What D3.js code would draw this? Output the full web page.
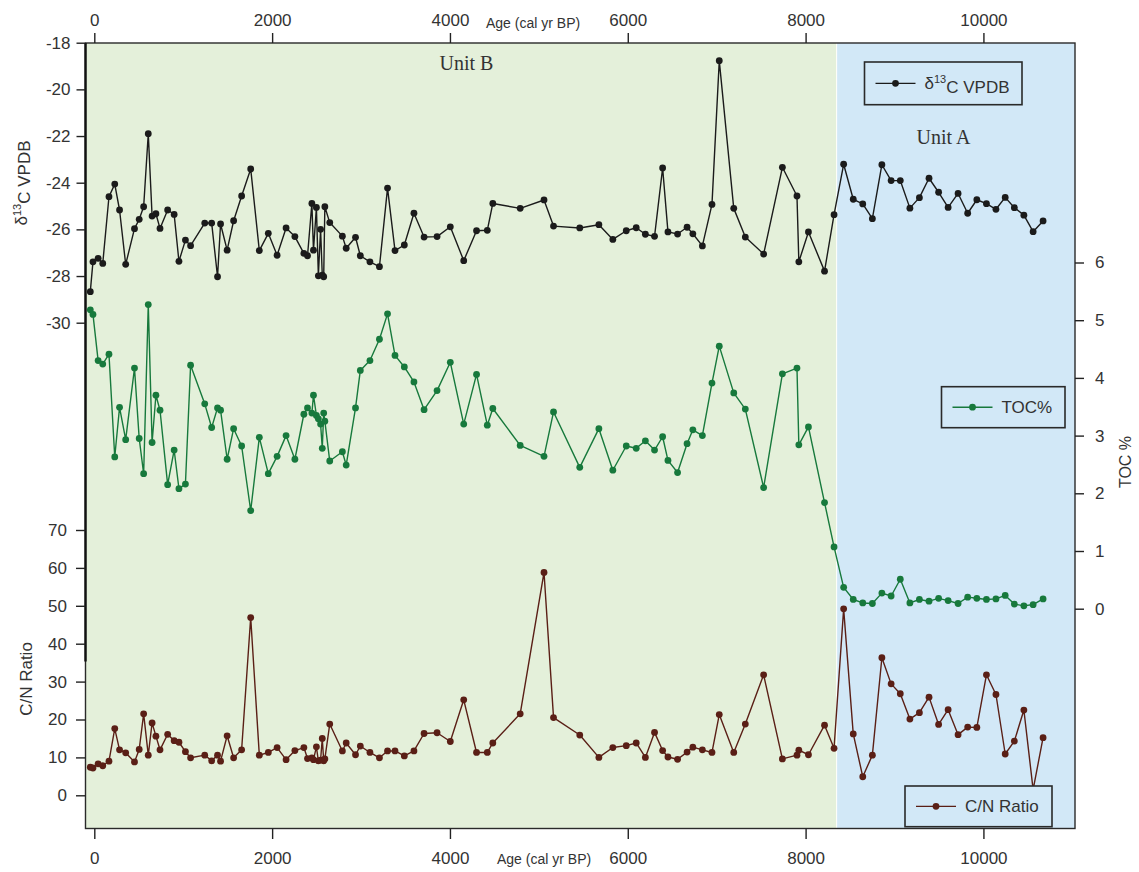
<!DOCTYPE html>
<html>
<head>
<meta charset="utf-8">
<script src="https://cdn.jsdelivr.net/npm/d3@7"></script>
<style>
  body { margin: 0; background: #ffffff; }
  svg text { font-family: "Liberation Sans", Arial, sans-serif; fill: #333; }
</style>
</head>
<body>
<svg id="chart" width="1139" height="872"></svg>
<script>
// Sample ages (cal yr BP), shared by all three proxies
const ages = [
  -45, -15, 43, 95, 165, 230, 284, 353, 452, 505,
  555, 607, 650, 693, 739, 825, 898, 952, 1025, 1083,
  1242, 1320, 1386, 1420, 1494, 1567, 1657, 1759, 1856, 1957,
  2056, 2157, 2256, 2357, 2398, 2447, 2465, 2498, 2520, 2545,
  2564, 2580, 2593, 2648, 2790, 2833, 2938, 2992, 3100, 3207,
  3298, 3382, 3487, 3595, 3709, 3855, 4004, 4155, 4299, 4420,
  4482, 4790, 5058, 5165, 5460, 5675,
  5832, 5983, 6095, 6198, 6301, 6392, 6452, 6560, 6667, 6732,
  6839, 6947, 7029, 7192, 7322, 7528, 7739, 7903, 7924, 8032,
  8213, 8320,
  8428, 8536, 8643, 8751, 8858, 8962, 9065, 9173, 9280, 9388,
  9496, 9603, 9715, 9823, 9926, 10034, 10141, 10245, 10348, 10455,
  10559, 10671
];

// δ13C VPDB (‰)
const d13C = [
  -28.67, -27.39, -27.24, -27.46, -24.6, -24.06, -25.17, -27.5, -25.97, -25.57,
  -25.03, -21.9, -25.43, -25.33, -25.96, -25.17, -25.36, -27.37, -26.46, -26.7,
  -25.73, -25.73, -28.03, -25.77, -26.89, -25.63, -24.57, -23.41, -26.91, -26.17,
  -27.11, -25.94, -26.31, -27.03, -27.13, -24.89, -26.89, -25.06, -27.99, -26.0,
  -27.96, -28.03, -25.03, -25.71, -26.29, -26.81, -26.34, -27.13, -27.39, -27.6,
  -24.23, -26.91, -26.67, -25.31, -26.33, -26.31, -25.89, -27.34, -26.06, -26.04,
  -24.89, -25.1, -24.74, -25.86, -25.94, -25.8,
  -26.43, -26.06, -25.93, -26.21, -26.3, -23.37, -26.11, -26.2, -25.91, -26.19,
  -26.71, -24.93, -18.77, -25.1, -26.33, -27.06, -23.34, -24.57, -27.39, -26.11,
  -27.79, -25.37,
  -23.21, -24.71, -24.91, -25.54, -23.23, -23.91, -23.91, -25.09, -24.64, -23.81,
  -24.41, -25.06, -24.46, -25.31, -24.73, -24.9, -25.14, -24.63, -25.07, -25.39,
  -26.1, -25.64
];

// Total organic carbon (%)
const toc = [
  5.18, 5.10, 4.30, 4.24, 4.41, 2.63, 3.49, 2.93, 4.17, 2.95,
  2.34, 5.27, 2.88, 3.70, 3.44, 2.15, 2.75, 2.08, 2.16, 4.22,
  3.55, 3.14, 3.48, 3.44, 2.59, 3.12, 2.82, 1.70, 2.97, 2.34,
  2.64, 3.00, 2.59, 3.37, 3.48, 3.39, 3.70, 3.35, 3.29, 3.20,
  2.78, 3.39, 3.25, 2.56, 2.72, 2.49, 3.48, 4.13, 4.30, 4.67,
  5.11, 4.39, 4.19, 3.93, 3.45, 3.78, 4.27, 3.20, 4.06, 3.18,
  3.47, 2.83, 2.64, 3.41, 2.45, 3.12,
  2.40, 2.82, 2.78, 2.91, 2.75, 2.98, 2.57, 2.36, 2.86, 3.10,
  3.00, 3.91, 4.55, 3.74, 3.46, 2.10, 4.07, 4.17, 2.84, 3.15,
  1.84, 1.07,
  0.37, 0.16, 0.10, 0.09, 0.27, 0.22, 0.51, 0.10, 0.16, 0.13,
  0.18, 0.14, 0.09, 0.20, 0.18, 0.16, 0.17, 0.23, 0.08, 0.05,
  0.07, 0.17
];

// C/N ratio
const cn = [
  7.4, 7.2, 8.3, 7.8, 9.0, 17.6, 12.0, 11.2, 8.8, 12.1,
  21.5, 10.6, 19.1, 15.6, 12.0, 16.1, 14.4, 14.0, 11.5, 9.9,
  10.6, 9.1, 10.6, 9.0, 15.7, 9.9, 12.0, 46.9, 10.6, 11.3,
  12.6, 9.4, 11.8, 12.6, 9.7, 9.9, 9.4, 12.8, 9.1, 9.3,
  15.0, 9.1, 9.6, 18.8, 11.7, 13.8, 10.7, 13.0, 11.3, 9.9,
  11.7, 11.7, 10.4, 11.7, 16.3, 16.5, 14.2, 25.2, 11.3, 11.3,
  13.8, 21.5, 58.8, 20.5, 15.9, 10.0,
  12.6, 13.1, 13.8, 10.0, 16.6, 11.8, 10.1, 9.5, 11.4, 12.7,
  12.0, 11.3, 21.3, 11.3, 18.8, 31.8, 9.6, 10.6, 11.9, 10.7,
  18.5, 12.4,
  49.2, 16.2, 4.9, 10.6, 36.3, 29.4, 26.8, 20.1, 21.8, 25.9,
  18.7, 22.6, 16.0, 18.0, 17.9, 31.8, 26.6, 10.9, 14.3, 22.5,
  1.5, 15.2
];

const ageTicks = [0, 2000, 4000, 6000, 8000, 10000];
const d13CTicks = [-18, -20, -22, -24, -26, -28, -30];
const tocTicks = [0, 1, 2, 3, 4, 5, 6];
const cnTicks = [0, 10, 20, 30, 40, 50, 60, 70];
const unitBoundaryAge = 8349;   // Unit B / Unit A contact

// ---------------------------------------------------------------
const svg = d3.select("#chart");
const L = 85.5, R = 1075, T = 43, B = 828.5;

const x  = d3.scaleLinear().domain([-99, 11030]).range([L, R]);
const yD = d3.scaleLinear().domain([-18, -30]).range([42.7, 322.7]);
const yT = d3.scaleLinear().domain([0, 6]).range([608.7, 262.5]);
const yC = d3.scaleLinear().domain([0, 70]).range([795.3, 530]);

const GREEN_BG = "#e4f0da", BLUE_BG = "#d2e8f7";
const COL_D = "#1b1b1b", COL_T = "#17793c", COL_C = "#5a1f16";

// Stratigraphic unit shading
const xb = x(unitBoundaryAge);
svg.append("rect").attr("x", L).attr("y", T).attr("width", xb - L - 0.5).attr("height", B - T)
  .attr("fill", GREEN_BG);
svg.append("rect").attr("x", xb + 0.5).attr("y", T).attr("width", R - xb - 0.5).attr("height", B - T)
  .attr("fill", BLUE_BG);

svg.append("text").attr("x", x(4185)).attr("y", 70).attr("text-anchor", "middle")
  .style("font-family", "'Liberation Serif', 'Times New Roman', serif").style("font-size", "20px")
  .text("Unit B");
svg.append("text").attr("x", x(9551)).attr("y", 144).attr("text-anchor", "middle")
  .style("font-family", "'Liberation Serif', 'Times New Roman', serif").style("font-size", "20px")
  .text("Unit A");

// Frame
const frame = svg.append("g").attr("stroke", "#2a2a2a").attr("fill", "none");
frame.append("rect").attr("x", L).attr("y", T).attr("width", R - L).attr("height", B - T)
  .attr("stroke-width", 1.4);
frame.append("line").attr("x1", L).attr("x2", L).attr("y1", T).attr("y2", 661.5)
  .attr("stroke-width", 2.4).attr("stroke", "#111");

// Axes
function styleAxis(g) {
  g.select(".domain").remove();
  g.selectAll(".tick line").attr("stroke", "#222").attr("stroke-width", 1.4);
  g.selectAll(".tick text").style("font-size", "17px").attr("fill", "#333");
}
svg.append("g").attr("transform", `translate(0,${T})`)
  .call(d3.axisTop(x).tickValues(ageTicks).tickSize(10).tickPadding(7.5).tickFormat(d3.format("d")))
  .call(styleAxis);
svg.append("g").attr("transform", `translate(0,${B})`)
  .call(d3.axisBottom(x).tickValues(ageTicks).tickSize(10.5).tickPadding(13).tickFormat(d3.format("d")))
  .call(styleAxis);
svg.append("g").attr("transform", `translate(${L},0)`)
  .call(d3.axisLeft(yD).tickValues(d13CTicks).tickSize(9).tickPadding(6).tickFormat(d => String(d)))
  .call(styleAxis);
svg.append("g").attr("transform", `translate(${L},0)`)
  .call(d3.axisLeft(yC).tickValues(cnTicks).tickSize(9.5).tickPadding(9).tickFormat(d => String(d)))
  .call(styleAxis);
svg.append("g").attr("transform", `translate(${R},0)`)
  .call(d3.axisRight(yT).tickValues(tocTicks).tickSize(9).tickPadding(11).tickFormat(d => String(d)))
  .call(styleAxis);

// Axis titles
const ageTitle = (xp, yp) => svg.append("text").attr("x", xp).attr("y", yp)
  .style("font-size", "14px").text("Age (cal yr BP)");
ageTitle(486, 28);
ageTitle(497, 864);

const dTitle = svg.append("text").attr("transform", "translate(21,183) rotate(-90)")
  .attr("text-anchor", "middle").attr("dy", "0.35em").style("font-size", "17px");
dTitle.append("tspan").text("δ");
dTitle.append("tspan").attr("dy", "-0.55em").style("font-size", "11px").text("13");
dTitle.append("tspan").attr("dy", "0.55em").text("C VPDB");

svg.append("text").attr("transform", "translate(26,679) rotate(-90)")
  .attr("text-anchor", "middle").attr("dy", "0.35em").style("font-size", "17px").text("C/N Ratio");
svg.append("text").attr("transform", "translate(1125,462) rotate(-90)")
  .attr("text-anchor", "middle").attr("dy", "0.35em").style("font-size", "16px").text("TOC %");

// Series
const series = [
  { values: d13C, y: yD, color: COL_D },
  { values: toc,  y: yT, color: COL_T },
  { values: cn,   y: yC, color: COL_C }
];
series.forEach(s => {
  const pts = ages.map((a, i) => [a, s.values[i]]);
  const g = svg.append("g");
  g.append("path").datum(pts)
    .attr("fill", "none").attr("stroke", s.color).attr("stroke-width", 1.4)
    .attr("stroke-linejoin", "round")
    .attr("d", d3.line().x(d => x(d[0])).y(d => s.y(d[1])));
  g.selectAll("circle").data(pts).join("circle")
    .attr("cx", d => x(d[0])).attr("cy", d => s.y(d[1])).attr("r", 3.4)
    .attr("fill", s.color);
});

// Legends
function legend(x0, y0, w, h, color, build) {
  const g = svg.append("g");
  g.append("rect").attr("x", x0).attr("y", y0).attr("width", w).attr("height", h)
    .attr("fill", BLUE_BG).attr("stroke", "#2a2a2a").attr("stroke-width", 1.6);
  const cy = y0 + h / 2;
  g.append("line").attr("x1", x0 + 11).attr("x2", x0 + 51).attr("y1", cy).attr("y2", cy)
    .attr("stroke", color).attr("stroke-width", 1.4);
  g.append("circle").attr("cx", x0 + 31).attr("cy", cy).attr("r", 3.4).attr("fill", color);
  const t = g.append("text").attr("x", x0 + 60).attr("y", cy).attr("dy", "0.35em")
    .style("font-size", "17px");
  build(t);
}
legend(864.5, 62, 157.5, 42.7, COL_D, t => {
  t.append("tspan").text("δ");
  t.append("tspan").attr("dy", "-0.55em").style("font-size", "11px").text("13");
  t.append("tspan").attr("dy", "0.55em").text("C VPDB");
});
legend(941.5, 386.7, 123.5, 41, COL_T, t => t.text("TOC%"));
legend(905, 786, 147, 40.7, COL_C, t => t.text("C/N Ratio"));
</script>
</body>
</html>
